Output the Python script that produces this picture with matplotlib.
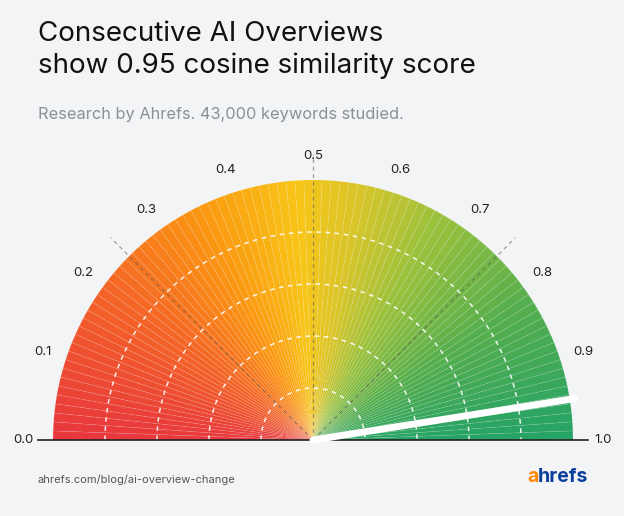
import numpy as np
import matplotlib.pyplot as plt
from matplotlib.patches import Wedge
from matplotlib.colors import LinearSegmentedColormap

# data
score = 0.95
tick_values = [0.0, 0.1, 0.2, 0.3, 0.4, 0.5, 0.6, 0.7, 0.8, 0.9, 1.0]
tick_labels = ["0.0", "0.1", "0.2", "0.3", "0.4", "0.5", "0.6", "0.7", "0.8", "0.9", "1.0"]
ring_fracs = [0.2, 0.4, 0.6, 0.8]
guide_values = [0.25, 0.5, 0.75]

bg = "#f3f4f6"
cx, cy, R = 313, 440, 260

cmap = LinearSegmentedColormap.from_list("g", [
    (0.0, "#e8363d"), (0.22, "#f56a24"), (0.36, "#fb9a10"), (0.48, "#f8c517"),
    (0.56, "#d9c52a"), (0.66, "#9cc23c"), (0.82, "#55ae4d"), (1.0, "#26a366")])

fig = plt.figure(figsize=(6.24, 5.16), dpi=100, facecolor=bg)
ax = fig.add_axes([0, 0, 1, 1])
ax.set_xlim(0, 624)
ax.set_ylim(516, 0)
ax.axis("off")

def ang(v):
    return 180 * (1 - v)

# gauge: many thin wedges (angles mirrored because y axis is inverted)
n = 90
for i in range(n):
    v0, v1 = i / n, (i + 1) / n
    ax.add_patch(Wedge((cx, cy), R, -ang(v0), -ang(v1), facecolor=cmap((v0 + v1) / 2),
                       edgecolor=(1, 1, 1, 0.1), lw=0.6))

# dashed rings
t = np.linspace(np.pi, 2 * np.pi, 200)
for f in ring_fracs:
    ax.plot(cx + f * R * np.cos(t), cy + f * R * np.sin(t), color="white", lw=1.1,
            ls=(0, (3, 3)), alpha=0.9)
# dashed guides
for v in guide_values:
    a = np.radians(ang(v))
    ax.plot([cx, cx + 1.1 * R * np.cos(a)], [cy, cy - 1.1 * R * np.sin(a)],
            color="#555", lw=0.9, ls=(0, (3, 3)), alpha=0.55)

# baseline
ax.plot([38, 588], [cy, cy], color="#222", lw=1.2)

# needle
a = np.radians(ang(score))
ax.plot([cx, cx + 1.02 * R * np.cos(a)], [cy, cy - 1.02 * R * np.sin(a)],
        color="white", lw=5, solid_capstyle="round")

# tick labels
for v, lab in zip(tick_values, tick_labels):
    a = np.radians(ang(v))
    rr = 290 if v in (0.0, 1.0) else 284
    ax.text(cx + rr * np.cos(a), cy - rr * np.sin(a), lab, ha="center", va="center",
            fontsize=9.5, color="#222", family="Inter")

# titles
ax.text(38, 50, "Consecutive AI Overviews\nshow 0.95 cosine similarity score", fontsize=20,
        family="Inter", color="#111", va="center", linespacing=1.25)
ax.text(38, 114, "Research by Ahrefs. 43,000 keywords studied.", fontsize=11.8,
        family="Inter", color="#8a8f98", va="center")
ax.text(38, 480, "ahrefs.com/blog/ai-overview-change", fontsize=8, family="Inter",
        color="#555", va="center")
ax.text(527, 477, "a", fontsize=14, family="Inter", weight="bold", color="#ff8a00", va="center")
ax.text(538, 477, "hrefs", fontsize=14, family="Inter", weight="bold", color="#0b3f9c", va="center")

fig.savefig("out.png", dpi=100, facecolor=bg)
